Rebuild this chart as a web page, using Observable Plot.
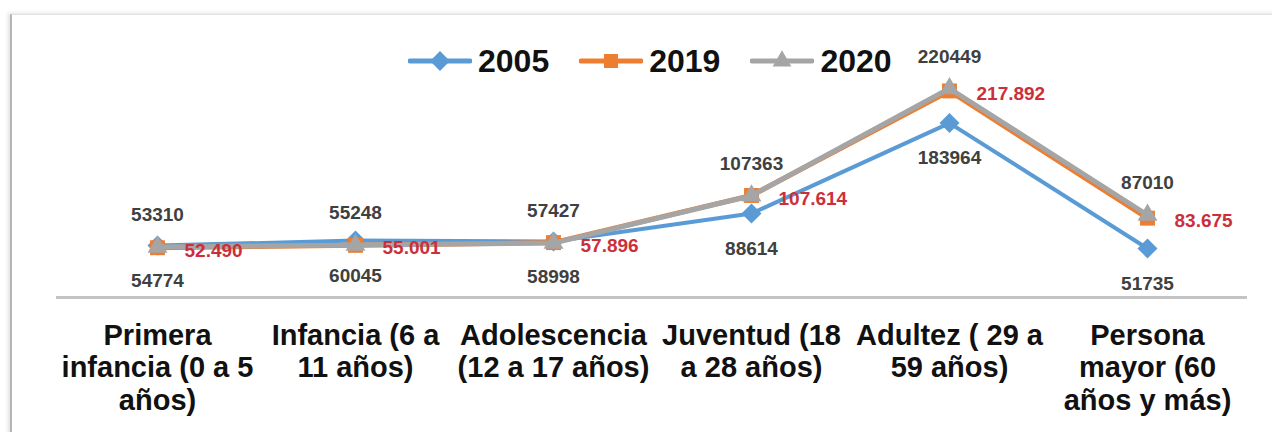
<!DOCTYPE html>
<html>
<head>
<meta charset="utf-8">
<script src="https://cdn.jsdelivr.net/npm/d3@7"></script>
<script src="https://cdn.jsdelivr.net/npm/@observablehq/plot@0.6"></script>
<style>
  html, body { margin: 0; padding: 0; background: #fff; width: 1272px; height: 432px; overflow: hidden; }
  body { position: relative; font-family: "Liberation Sans", Arial, sans-serif; }
  #frame { position: absolute; left: 10px; top: 14px; width: 1280px; height: 440px;
           border-left: 2px solid #b5b5b5; border-top: 1px solid #e2e2e2;
           box-shadow: -2px -1px 4px rgba(0,0,0,0.12); }
  #chart { position: absolute; left: 0; top: 0; }
  #legend { position: absolute; left: 408px; top: 42px; display: flex; align-items: center; gap: 30px; }
  .item { display: flex; align-items: center; gap: 6px; font-weight: bold; font-size: 32px; color: #111; line-height: 38px; }
</style>
</head>
<body>
<div id="frame"></div>
<div id="chart"></div>
<div id="legend"></div>
<script>
const categories = [
  "Primera\ninfancia (0 a 5\naños)",
  "Infancia (6 a\n11 años)",
  "Adolescencia\n(12 a 17 años)",
  "Juventud (18\na 28 años)",
  "Adultez ( 29 a\n59 años)",
  "Persona\nmayor (60\naños y más)"
];
const seriesNames = ["2005", "2019", "2020"];
const values2005 = [54774, 60045, 58998, 88614, 183964, 51735];
const values2019 = [52490, 55001, 57896, 107614, 217892, 83675];
const values2020 = [53310, 55248, 57427, 107363, 220449, 87010];
const colors = {"2005": "#5b9bd5", "2019": "#ed7d31", "2020": "#a5a5a5"};
const symbols = {"2005": "diamond2", "2019": "square2", "2020": "triangle2"};

const toRows = (name, vals) => categories.map((c, i) => ({cat: c, value: vals[i], series: name}));
const r2005 = toRows("2005", values2005);
const r2019 = toRows("2019", values2019);
const r2020 = toRows("2020", values2020);

const esFormat = d3.formatLocale({decimal: ",", thousands: ".", grouping: [3], currency: ["$", ""]}).format(",");

const font = "'Liberation Sans', Arial, sans-serif";
const seriesMarks = (rows, name, size, sw) => [
  Plot.line(rows, {x: "cat", y: "value", stroke: colors[name], strokeWidth: sw}),
  Plot.dot(rows, {x: "cat", y: "value", symbol: () => symbols[name], fill: colors[name], stroke: "none", r: size})
];

const chart = Plot.plot({
  width: 1272,
  height: 432,
  marginLeft: 56,
  marginRight: 25,
  marginTop: 60,
  marginBottom: 135,
  style: {fontFamily: font, background: "transparent", overflow: "visible"},
  x: {type: "point", domain: categories, padding: 0.5},
  y: {domain: [0, 250000], axis: null},
  symbol: {type: "identity"},
  marks: [
    Plot.ruleY([0], {stroke: "#c4c4c4", strokeWidth: 3}),
    ...seriesMarks(r2005, "2005", 9, 4),
    ...seriesMarks(r2019, "2019", 9.5, 5),
    ...seriesMarks(r2020, "2020", 9.5, 5),
    Plot.text(r2020, {x: "cat", y: "value", text: d => String(d.value), dy: -32, fill: "#404040", fontSize: 19, fontWeight: "bold"}),
    Plot.text(r2005, {x: "cat", y: "value", text: d => String(d.value), dy: 35, fill: "#404040", fontSize: 19, fontWeight: "bold"}),
    Plot.text(r2019, {x: "cat", y: "value", text: d => esFormat(d.value), dx: 27, dy: 3, textAnchor: "start", fill: "#cc2f3a", fontSize: 19, fontWeight: "bold"}),
    Plot.axisX({tickSize: 0, tickPadding: 24, fontSize: 29, fontWeight: "bold", fill: "#111", lineHeight: 1.12, label: null})
  ]
});
document.getElementById("chart").appendChild(chart);

const legend = document.getElementById("legend");
for (const name of seriesNames) {
  const item = document.createElement("div");
  item.className = "item";
  const s = d3.create("svg").attr("width", 64).attr("height", 22);
  s.append("line").attr("x1", 2).attr("x2", 62).attr("y1", 11).attr("y2", 11)
    .attr("stroke", colors[name]).attr("stroke-width", 5).attr("stroke-linecap", "round");
  const sym = {"2005": d3.symbolDiamond2, "2019": d3.symbolSquare2, "2020": d3.symbolTriangle2}[name];
  s.append("path").attr("d", d3.symbol(sym, 250)()).attr("transform", "translate(32,11)").attr("fill", colors[name]);
  item.appendChild(s.node());
  const t = document.createElement("span");
  t.textContent = name;
  item.appendChild(t);
  legend.appendChild(item);
}
</script>
</body>
</html>
